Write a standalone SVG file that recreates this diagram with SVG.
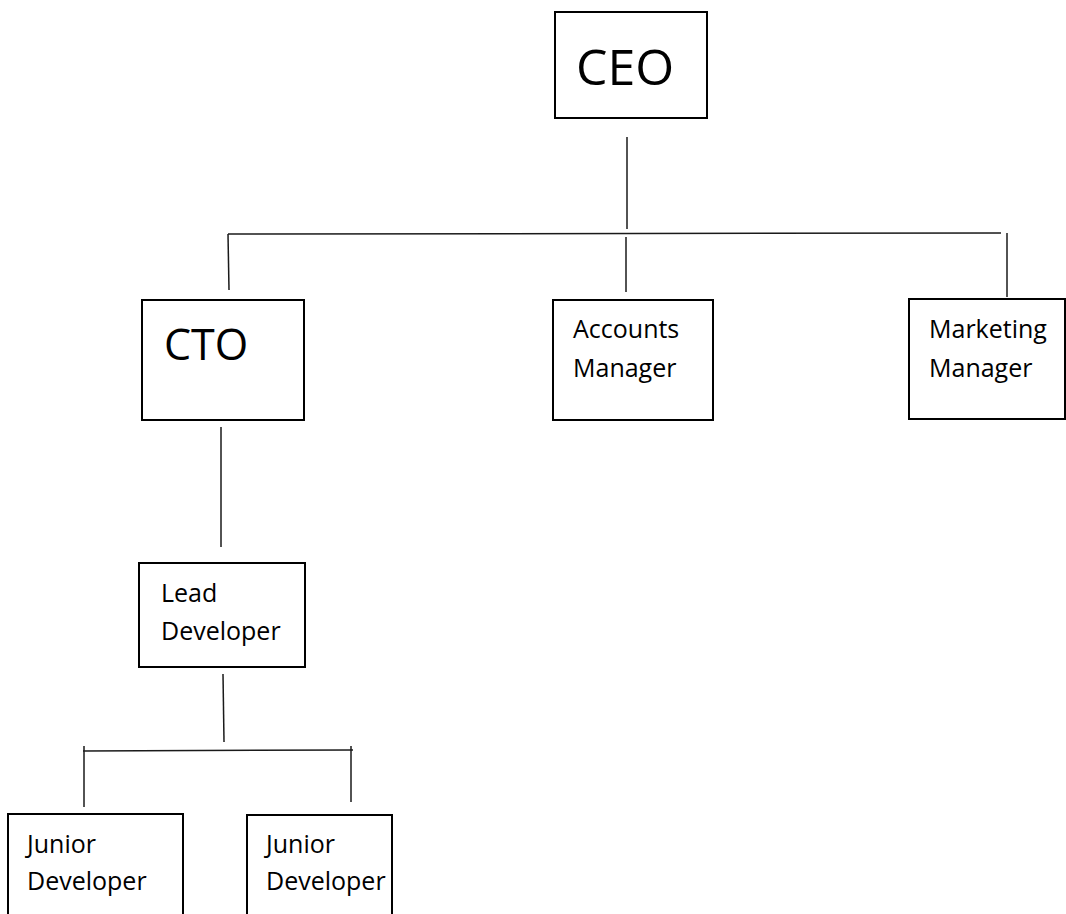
<svg xmlns="http://www.w3.org/2000/svg" width="1066" height="914" viewBox="0 0 1066 914">
<style>
.box{fill:#fff;stroke:#000;stroke-width:2}
.ln{stroke:#1a1a1a;stroke-width:1.5;fill:none}
text{font-family:"Open Sans","Noto Sans","Liberation Sans",sans-serif;fill:#000}
.big{font-size:50px}
.mid{font-size:43px}
.sm{font-size:25px}
</style>
<rect width="1066" height="914" fill="#fff"/>
<g id="connectors">
<line class="ln" x1="627" y1="137" x2="627" y2="229"/>
<line class="ln" x1="228" y1="234" x2="1001" y2="233"/>
<line class="ln" x1="228" y1="234" x2="229" y2="290"/>
<line class="ln" x1="626" y1="237" x2="626" y2="292"/>
<line class="ln" x1="1007" y1="233" x2="1007" y2="297"/>
<line class="ln" x1="221" y1="427" x2="221" y2="547"/>
<line class="ln" x1="223" y1="674" x2="224" y2="742"/>
<line class="ln" x1="83" y1="751" x2="353" y2="750"/>
<line class="ln" x1="84" y1="746" x2="84" y2="807"/>
<line class="ln" x1="351" y1="746" x2="351" y2="802"/>
</g>
<g id="ceo">
<rect class="box" x="555" y="12" width="152" height="106"/>
<text class="big" x="576" y="85">CEO</text>
</g>
<g id="cto">
<rect class="box" x="142" y="300" width="162" height="120"/>
<text class="mid" x="164" y="360">CTO</text>
</g>
<g id="accounts">
<rect class="box" x="553" y="300" width="160" height="120"/>
<text class="sm" x="573" y="338">Accounts</text>
<text class="sm" x="573" y="377">Manager</text>
</g>
<g id="marketing">
<rect class="box" x="909" y="299" width="156" height="120"/>
<text class="sm" x="929" y="338">Marketing</text>
<text class="sm" x="929" y="377">Manager</text>
</g>
<g id="lead">
<rect class="box" x="139" y="563" width="166" height="104"/>
<text class="sm" x="161" y="602">Lead</text>
<text class="sm" x="161" y="640">Developer</text>
</g>
<g id="junior1">
<rect class="box" x="8" y="814" width="175" height="110"/>
<text class="sm" x="27" y="853">Junior</text>
<text class="sm" x="27" y="890">Developer</text>
</g>
<g id="junior2">
<rect class="box" x="247" y="815" width="145" height="110"/>
<text class="sm" x="266" y="853">Junior</text>
<text class="sm" x="266" y="890">Developer</text>
</g>
</svg>
